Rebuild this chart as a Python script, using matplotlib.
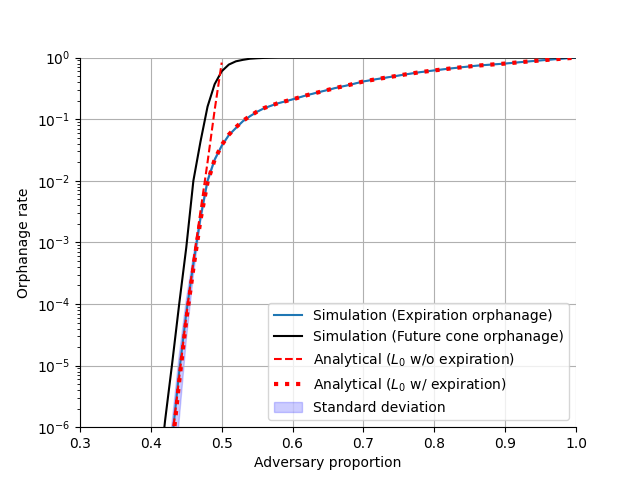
import numpy as np
import matplotlib
matplotlib.use("Agg")
import matplotlib.pyplot as plt

# simulation: expiration orphanage (mean and std)
x_sim = [0.42, 0.43, 0.44, 0.45, 0.46, 0.47, 0.48, 0.49, 0.50, 0.51, 0.52,
         0.53, 0.54, 0.55, 0.56, 0.57, 0.58, 0.59, 0.60, 0.62, 0.64, 0.66,
         0.68, 0.70, 0.72, 0.74, 0.76, 0.78, 0.80, 0.82, 0.84, 0.86, 0.88,
         0.90, 0.92, 0.94, 0.96, 0.98, 1.00]
expir_sim = [6e-8, 6.3e-7, 7.9e-6, 7.1e-5, 4.5e-4, 2.5e-3, 1.0e-2, 2.2e-2,
             3.7e-2, 5.5e-2, 7.2e-2, 9.3e-2, 0.112, 0.132, 0.151, 0.166,
             0.182, 0.195, 0.21, 0.245, 0.28, 0.32, 0.36, 0.41, 0.45, 0.49,
             0.535, 0.58, 0.62, 0.66, 0.70, 0.74, 0.77, 0.80, 0.84, 0.88,
             0.92, 0.96, 1.0]
expir_std = [5.5e-8, 5.6e-7, 6.6e-6, 4.5e-5, 1.6e-4, 4e-4, 8e-4, 1e-3,
             1e-3, 1e-3, 1e-3, 1e-3, 1e-3, 1e-3, 1e-3, 1e-3,
             1e-3, 1e-3, 1e-3, 1e-3, 1e-3, 1e-3, 1e-3, 1e-3, 1e-3, 1e-3,
             1e-3, 1e-3, 1e-3, 1e-3, 1e-3, 1e-3, 1e-3, 1e-3, 1e-3, 1e-3,
             1e-3, 1e-3, 0.0]

# simulation: future cone orphanage
x_cone = [0.41, 0.42, 0.43, 0.44, 0.45, 0.46, 0.47, 0.48, 0.49, 0.50, 0.51,
          0.52, 0.53, 0.54, 0.55, 0.56, 0.57, 0.58, 0.60, 0.70, 0.80, 0.90, 1.00]
cone_sim = [1e-7, 1.26e-6, 1.07e-5, 1.0e-4, 8.3e-4, 1.0e-2, 4.3e-2, 0.16,
            0.37, 0.60, 0.77, 0.87, 0.92, 0.96, 0.977, 0.989, 0.995, 1.0,
            1.0, 1.0, 1.0, 1.0, 1.0]

# analytical L0 without expiration
x_noexp = [0.41, 0.42, 0.43, 0.44, 0.45, 0.46, 0.47, 0.48, 0.49, 0.50]
noexp = [5e-9, 5e-8, 6.3e-7, 6.3e-6, 6.3e-5, 5.0e-4, 3.2e-3, 2.0e-2,
         0.14, 0.83]

# analytical L0 with expiration
x_exp = x_sim
exp_an = [4e-8, 4.5e-7, 5.5e-6, 5.5e-5, 3.8e-4, 2.3e-3, 9.5e-3, 2.2e-2,
          3.8e-2, 5.6e-2, 7.4e-2, 9.4e-2, 0.113, 0.133, 0.152, 0.167,
          0.183, 0.196, 0.21, 0.245, 0.28, 0.32, 0.36, 0.41, 0.45, 0.49,
          0.535, 0.58, 0.62, 0.66, 0.70, 0.74, 0.77, 0.80, 0.84, 0.88,
          0.92, 0.96, 1.0]

fig, ax = plt.subplots(figsize=(6.4, 4.8), dpi=100)

m = np.array(expir_sim)
s = np.array(expir_std)

ax.plot(x_sim, expir_sim, color="C0", label="Simulation (Expiration orphanage)")
ax.plot(x_cone, cone_sim, color="black", label="Simulation (Future cone orphanage)")
ax.plot(x_noexp, noexp, "r--", label="Analytical ($L_0$ w/o expiration)")
ax.plot(x_exp, exp_an, "r:", linewidth=3, label="Analytical ($L_0$ w/ expiration)")
ax.fill_between(x_sim, m - s, m + s, color="blue", alpha=0.2,
                label="Standard deviation")

ax.set_yscale("log")
ax.set_xlim(0.3, 1.0)
ax.set_ylim(1e-6, 1)
ax.set_xlabel("Adversary proportion")
ax.set_ylabel("Orphanage rate")
ax.grid(True)
ax.spines["top"].set_visible(False)
ax.spines["right"].set_visible(False)
ax.legend(loc="lower right")

fig.savefig("out.png")
